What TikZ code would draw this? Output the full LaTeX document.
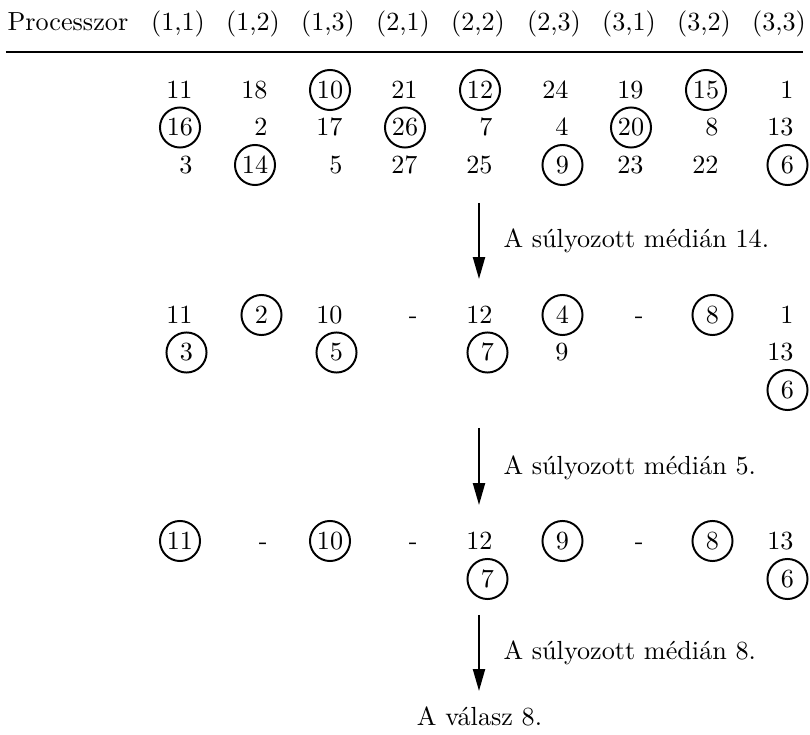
\documentclass[tikz,border=0pt]{standalone}
\usepackage{tikz}
\usetikzlibrary{arrows.meta}

\tikzset{
	kor/.style={circle, draw, minimum size=15.3pt, line width=0.75pt},
	nyil/.style={-{Triangle[length=8.4pt, width=4.6pt]}, line width=0.8pt},
	felirat/.style={anchor=base west, inner sep=0pt}
}

\begin{document}
\begin{tikzpicture}[x=0.382pt, y=-0.382pt]
	\useasboundingbox (0,0) rectangle (810,735);
	% fejlec
	\node[anchor=base west, inner sep=0pt] (proc) at (7,31) {Processzor};
	\begin{scope}[every node/.style={anchor=base, inner sep=0pt}]
		\node (h11) at (178,31) {(1,1)};
		\node (h12) at (253,31) {(1,2)};
		\node (h13) at (328,31) {(1,3)};
		\node (h21) at (403,31) {(2,1)};
		\node (h22) at (478,31) {(2,2)};
		\node (h23) at (554,31) {(2,3)};
		\node (h31) at (629,31) {(3,1)};
		\node (h32) at (704,31) {(3,2)};
		\node (h33) at (779,31) {(3,3)};
	\end{scope}
	\coordinate (vb) at (6,52);
	\coordinate (vj) at (803,52);
	\draw[line width=0.8pt] (vb) -- (vj);

	% kiindulas
	\begin{scope}[every node/.style={inner sep=0pt, text height=6.5pt, text depth=0pt}]
		\node[anchor=east] (a11) at (193,90) {11};
		\node[kor] (a12) at (180,127.5) {16};
		\node[anchor=east] (a13) at (193,165) {3};
		\node[anchor=east] (a21) at (268,90) {18};
		\node[anchor=east] (a22) at (268,127.5) {2};
		\node[kor] (a23) at (255,165) {14};
		\node[kor] (a31) at (330,90) {10};
		\node[anchor=east] (a32) at (343,127.5) {17};
		\node[anchor=east] (a33) at (343,165) {5};
		\node[anchor=east] (a41) at (418,90) {21};
		\node[kor] (a42) at (405,127.5) {26};
		\node[anchor=east] (a43) at (418,165) {27};
		\node[kor] (a51) at (480,90) {12};
		\node[anchor=east] (a52) at (493,127.5) {7};
		\node[anchor=east] (a53) at (493,165) {25};
		\node[anchor=east] (a61) at (569,90) {24};
		\node[anchor=east] (a62) at (569,127.5) {4};
		\node[kor] (a63) at (562.5,165) {9};
		\node[anchor=east] (a71) at (644,90) {19};
		\node[kor] (a72) at (631,127.5) {20};
		\node[anchor=east] (a73) at (644,165) {23};
		\node[kor] (a81) at (706,90) {15};
		\node[anchor=east] (a82) at (719,127.5) {8};
		\node[anchor=east] (a83) at (719,165) {22};
		\node[anchor=east] (a91) at (794,90) {1};
		\node[anchor=east] (a92) at (794,127.5) {13};
		\node[kor] (a93) at (787.5,165) {6};
	\end{scope}

	% elso lepes
	\coordinate (e1f) at (479,203);
	\coordinate (e1a) at (479,279);
	\draw[nyil] (e1f) -- (e1a);
	\node[felirat] (m1) at (503,248) {A súlyozott médián 14.};

	\begin{scope}[every node/.style={inner sep=0pt, text height=6.5pt, text depth=0pt}]
		\node[anchor=east] (b11) at (193,315) {11};
		\node[kor] (b12) at (186.5,352.5) {3};
		\node[kor] (b21) at (261.5,315) {2};
		\node[anchor=east] (b31) at (343,315) {10};
		\node[kor] (b32) at (336.5,352.5) {5};
		\node[anchor=east] (b41) at (418,315) {-};
		\node[anchor=east] (b51) at (493,315) {12};
		\node[kor] (b52) at (487.5,352.5) {7};
		\node[kor] (b61) at (562.5,315) {4};
		\node[anchor=east] (b62) at (569,352.5) {9};
		\node[anchor=east] (b71) at (644,315) {-};
		\node[kor] (b81) at (712.5,315) {8};
		\node[anchor=east] (b91) at (794,315) {1};
		\node[anchor=east] (b92) at (794,352.5) {13};
		\node[kor] (b93) at (787.5,390) {6};
	\end{scope}

	% masodik lepes
	\coordinate (e2f) at (479,428);
	\coordinate (e2a) at (479,505);
	\draw[nyil] (e2f) -- (e2a);
	\node[felirat] (m2) at (503,475) {A súlyozott médián 5.};

	\begin{scope}[every node/.style={inner sep=0pt, text height=6.5pt, text depth=0pt}]
		\node[kor] (c11) at (180,541) {11};
		\node[anchor=east] (c21) at (268,541) {-};
		\node[kor] (c31) at (330,541) {10};
		\node[anchor=east] (c41) at (418,541) {-};
		\node[anchor=east] (c51) at (493,541) {12};
		\node[kor] (c52) at (487.5,579) {7};
		\node[kor] (c61) at (562.5,541) {9};
		\node[anchor=east] (c71) at (644,541) {-};
		\node[kor] (c81) at (712.5,541) {8};
		\node[anchor=east] (c91) at (794,541) {13};
		\node[kor] (c92) at (787.5,579) {6};
	\end{scope}

	% harmadik lepes
	\coordinate (e3f) at (479,615);
	\coordinate (e3a) at (479,691);
	\draw[nyil] (e3f) -- (e3a);
	\node[felirat] (m3) at (503,660) {A súlyozott médián 8.};

	\node[anchor=base, inner sep=0pt] (valasz) at (479.5,726) {A válasz 8.};
\end{tikzpicture}
\end{document}
